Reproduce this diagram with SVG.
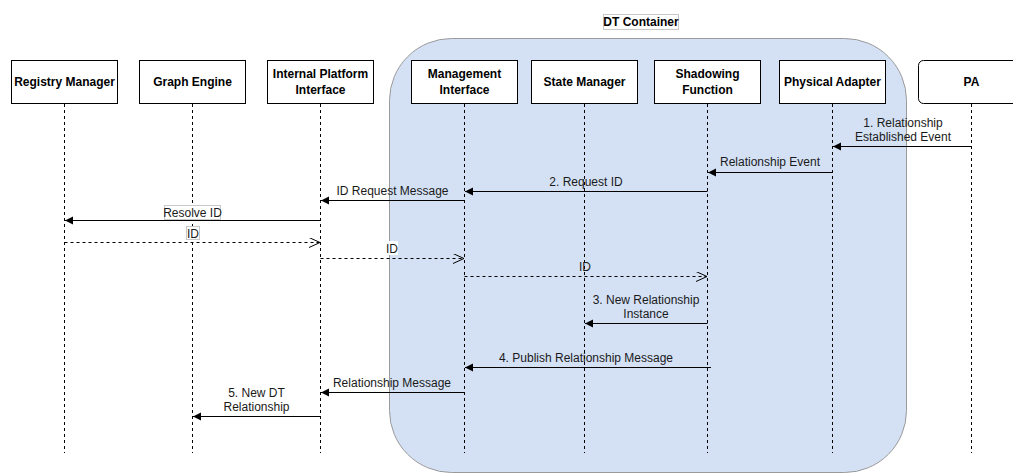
<svg xmlns="http://www.w3.org/2000/svg" width="1013" height="473" viewBox="0 0 1013 473">
<style>
.box{fill:#fff;stroke:#000;stroke-width:1}
.hd{font-family:"Liberation Sans",Arial,sans-serif;font-size:12px;font-weight:bold;fill:#000;text-anchor:middle}
.lbl{font-family:"Liberation Sans",Arial,sans-serif;font-size:12px;fill:#1a1a1a;text-anchor:middle}
.life{stroke:#000;stroke-width:1;stroke-dasharray:3 3;fill:none}
.msg{stroke:#000;stroke-width:1;fill:none;marker-end:url(#block)}
.ret{stroke:#000;stroke-width:1;fill:none;stroke-dasharray:3 3;marker-end:url(#open)}
.lb{fill:#fff;stroke:#c8c8c8;stroke-width:1}
</style>
<defs>
<marker id="block" markerUnits="userSpaceOnUse" markerWidth="10" markerHeight="10" refX="8" refY="4" orient="auto" viewBox="0 0 10 10">
<path d="M0,0 L8,4 L0,8 z" fill="#000"/>
</marker>
<marker id="open" markerUnits="userSpaceOnUse" markerWidth="13" markerHeight="12" refX="11" refY="5" orient="auto" viewBox="0 0 13 12">
<path d="M0,0 L11,5 L0,10" fill="none" stroke="#000" stroke-width="1"/>
</marker>
</defs>
<rect width="1013" height="473" fill="#fff"/>
<g id="dt-container">
<rect x="389.5" y="38.5" width="517" height="434" rx="62" ry="62" fill="#d4e1f5" stroke="#9a9a9a" stroke-width="1"/>
<rect x="603.5" y="14.5" width="75" height="15" class="lb"/>
<text x="641" y="26" class="hd">DT Container</text>
</g>
<g id="registry-manager">
<rect x="11.5" y="60.5" width="106" height="43" class="box"/>
<text x="64.5" y="86" class="hd">Registry Manager</text>
<line x1="64.5" y1="104" x2="64.5" y2="453" class="life"/>
</g>
<g id="graph-engine">
<rect x="139.5" y="60.5" width="106" height="43" class="box"/>
<text x="192.5" y="86" class="hd">Graph Engine</text>
<line x1="192.5" y1="104" x2="192.5" y2="453" class="life"/>
</g>
<g id="internal-platform-interface">
<rect x="267.5" y="60.5" width="106" height="43" class="box"/>
<text x="320.5" y="78" class="hd">Internal Platform</text>
<text x="320.5" y="94" class="hd">Interface</text>
<line x1="320.5" y1="104" x2="320.5" y2="453" class="life"/>
</g>
<g id="management-interface">
<rect x="411.5" y="60.5" width="106" height="43" class="box"/>
<text x="464.5" y="78" class="hd">Management</text>
<text x="464.5" y="94" class="hd">Interface</text>
<line x1="464.5" y1="104" x2="464.5" y2="453" class="life"/>
</g>
<g id="state-manager">
<rect x="531.5" y="60.5" width="106" height="43" class="box"/>
<text x="584.5" y="86" class="hd">State Manager</text>
<line x1="584.5" y1="104" x2="584.5" y2="453" class="life"/>
</g>
<g id="shadowing-function">
<rect x="654.5" y="60.5" width="106" height="43" class="box"/>
<text x="707.5" y="78" class="hd">Shadowing</text>
<text x="707.5" y="94" class="hd">Function</text>
<line x1="707.5" y1="104" x2="707.5" y2="453" class="life"/>
</g>
<g id="physical-adapter">
<rect x="779.5" y="60.5" width="106" height="43" class="box"/>
<text x="832.5" y="86" class="hd">Physical Adapter</text>
<line x1="832.5" y1="104" x2="832.5" y2="453" class="life"/>
</g>
<g id="pa">
<rect x="918.5" y="60.5" width="106" height="43" rx="5" ry="5" class="box"/>
<text x="971.5" y="86" class="hd">PA</text>
<line x1="971.5" y1="104" x2="971.5" y2="453" class="life"/>
</g>
<g id="connectors">
<line x1="971.5" y1="146.5" x2="833" y2="146.5" class="msg"/>
<text x="903" y="127" class="lbl">1. Relationship</text>
<text x="903" y="141" class="lbl">Established Event</text>
<line x1="832.5" y1="172.5" x2="708" y2="172.5" class="msg"/>
<text x="770" y="166" class="lbl">Relationship Event</text>
<line x1="707.5" y1="191.5" x2="465" y2="191.5" class="msg"/>
<text x="586" y="186" class="lbl">2. Request ID</text>
<line x1="464.5" y1="200.5" x2="321" y2="200.5" class="msg"/>
<text x="392.5" y="194.5" class="lbl">ID Request Message</text>
<line x1="320.5" y1="220.5" x2="65" y2="220.5" class="msg"/>
<rect x="164.5" y="205.5" width="56" height="14" class="lb"/>
<text x="192.5" y="216.5" class="lbl">Resolve ID</text>
<line x1="64.5" y1="242.5" x2="320" y2="242.5" class="ret"/>
<rect x="186.5" y="226.5" width="13" height="13" class="lb"/>
<text x="193" y="237.5" class="lbl">ID</text>
<line x1="320.5" y1="258.5" x2="464" y2="258.5" class="ret"/>
<rect x="386" y="241" width="12" height="14" fill="#fff"/>
<text x="392" y="252.5" class="lbl">ID</text>
<line x1="464.5" y1="276.5" x2="707" y2="276.5" class="ret"/>
<text x="585" y="271" class="lbl">ID</text>
<line x1="707.5" y1="323.5" x2="585" y2="323.5" class="msg"/>
<text x="646" y="304" class="lbl">3. New Relationship</text>
<text x="646" y="318" class="lbl">Instance</text>
<line x1="711" y1="367.5" x2="465" y2="367.5" class="msg"/>
<text x="586" y="362" class="lbl">4. Publish Relationship Message</text>
<line x1="464.5" y1="392.5" x2="321" y2="392.5" class="msg"/>
<text x="392" y="386.5" class="lbl">Relationship Message</text>
<line x1="320.5" y1="416.5" x2="193" y2="416.5" class="msg"/>
<text x="256.5" y="397" class="lbl">5. New DT</text>
<text x="256.5" y="411" class="lbl">Relationship</text>
</g>
</svg>
